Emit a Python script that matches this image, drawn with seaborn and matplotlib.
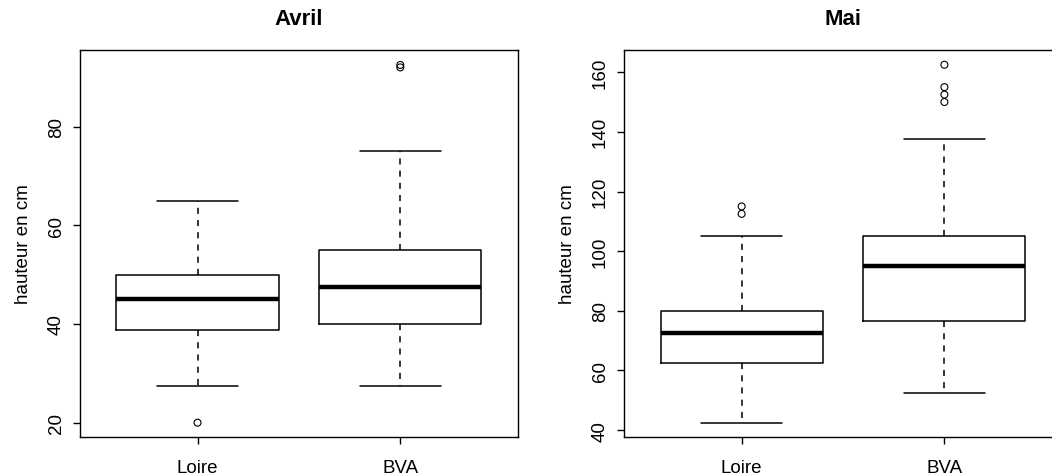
import matplotlib
matplotlib.use("Agg")
import matplotlib.pyplot as plt
import seaborn as sns
import pandas as pd

groups = ["Loire", "BVA"]

# box summaries: lower whisker, Q1, median, Q3, upper whisker
avril_loire = [27.5, 38.75, 45, 50, 65]
avril_bva = [27.5, 40, 47.5, 55, 75]
mai_loire = [42.5, 62.5, 72.5, 80, 105]
mai_bva = [52.5, 76.5, 95, 105, 137.5]

# points beyond the whiskers
avril_loire_out = [20]
avril_bva_out = [92, 92.5]
mai_loire_out = [112.5, 115]
mai_bva_out = [150, 152.5, 155, 162.5]

sns.set_theme(style="ticks")
plt.rcParams["font.family"] = ["Liberation Sans", "DejaVu Sans"]
plt.rcParams["axes.edgecolor"] = "black"
plt.rcParams["axes.linewidth"] = 1.0
plt.rcParams["text.color"] = "black"
plt.rcParams["axes.labelcolor"] = "black"
plt.rcParams["xtick.color"] = "black"
plt.rcParams["ytick.color"] = "black"

fig = plt.figure(figsize=(10.52, 4.77), dpi=100)
ax1 = fig.add_axes([0.076, 0.0818, 0.4163, 0.811])
ax2 = fig.add_axes([0.5932, 0.0818, 0.4163, 0.811])


def panel(ax, title, loire, bva, loire_out, bva_out, ylim, yticks):
    box_df = pd.DataFrame({
        "site": [groups[0]] * len(loire) + [groups[1]] * len(bva),
        "h": loire + bva,
    })
    out_df = pd.DataFrame({
        "site": [groups[0]] * len(loire_out) + [groups[1]] * len(bva_out),
        "h": loire_out + bva_out,
    })
    sns.boxplot(data=box_df, x="site", y="h", order=groups, whis=(0, 100),
                width=0.8, fill=False, color="black", linewidth=1.1,
                medianprops={"linewidth": 3.2},
                whiskerprops={"linestyle": (0, (4, 4))},
                ax=ax)
    sns.stripplot(data=out_df, x="site", y="h", order=groups, jitter=False,
                  color="none", edgecolor="black", linewidth=0.8, size=5,
                  ax=ax)
    ax.set_xlim(-0.58, 1.58)
    ax.set_ylim(*ylim)
    ax.set_yticks(yticks)
    ax.set_xlabel("")
    ax.set_ylabel("hauteur en cm", fontsize=13.5, labelpad=11)
    ax.set_title(title, fontsize=16, fontweight="bold", pad=19)
    ax.tick_params(axis="both", labelsize=13.5, length=5, width=1,
                   color="black")
    ax.tick_params(axis="x", pad=11)
    ax.tick_params(axis="y", labelrotation=90, pad=6)
    for lbl in ax.get_yticklabels():
        lbl.set_va("center")
    for s in ax.spines.values():
        s.set_visible(True)
        s.set_color("black")


panel(ax1, "Avril", avril_loire, avril_bva, avril_loire_out, avril_bva_out,
      (17.1, 95.5), [20, 40, 60, 80])
panel(ax2, "Mai", mai_loire, mai_bva, mai_loire_out, mai_bva_out,
      (37.7, 167.4), [40, 60, 80, 100, 120, 140, 160])

fig.savefig("out.png", dpi=100)
